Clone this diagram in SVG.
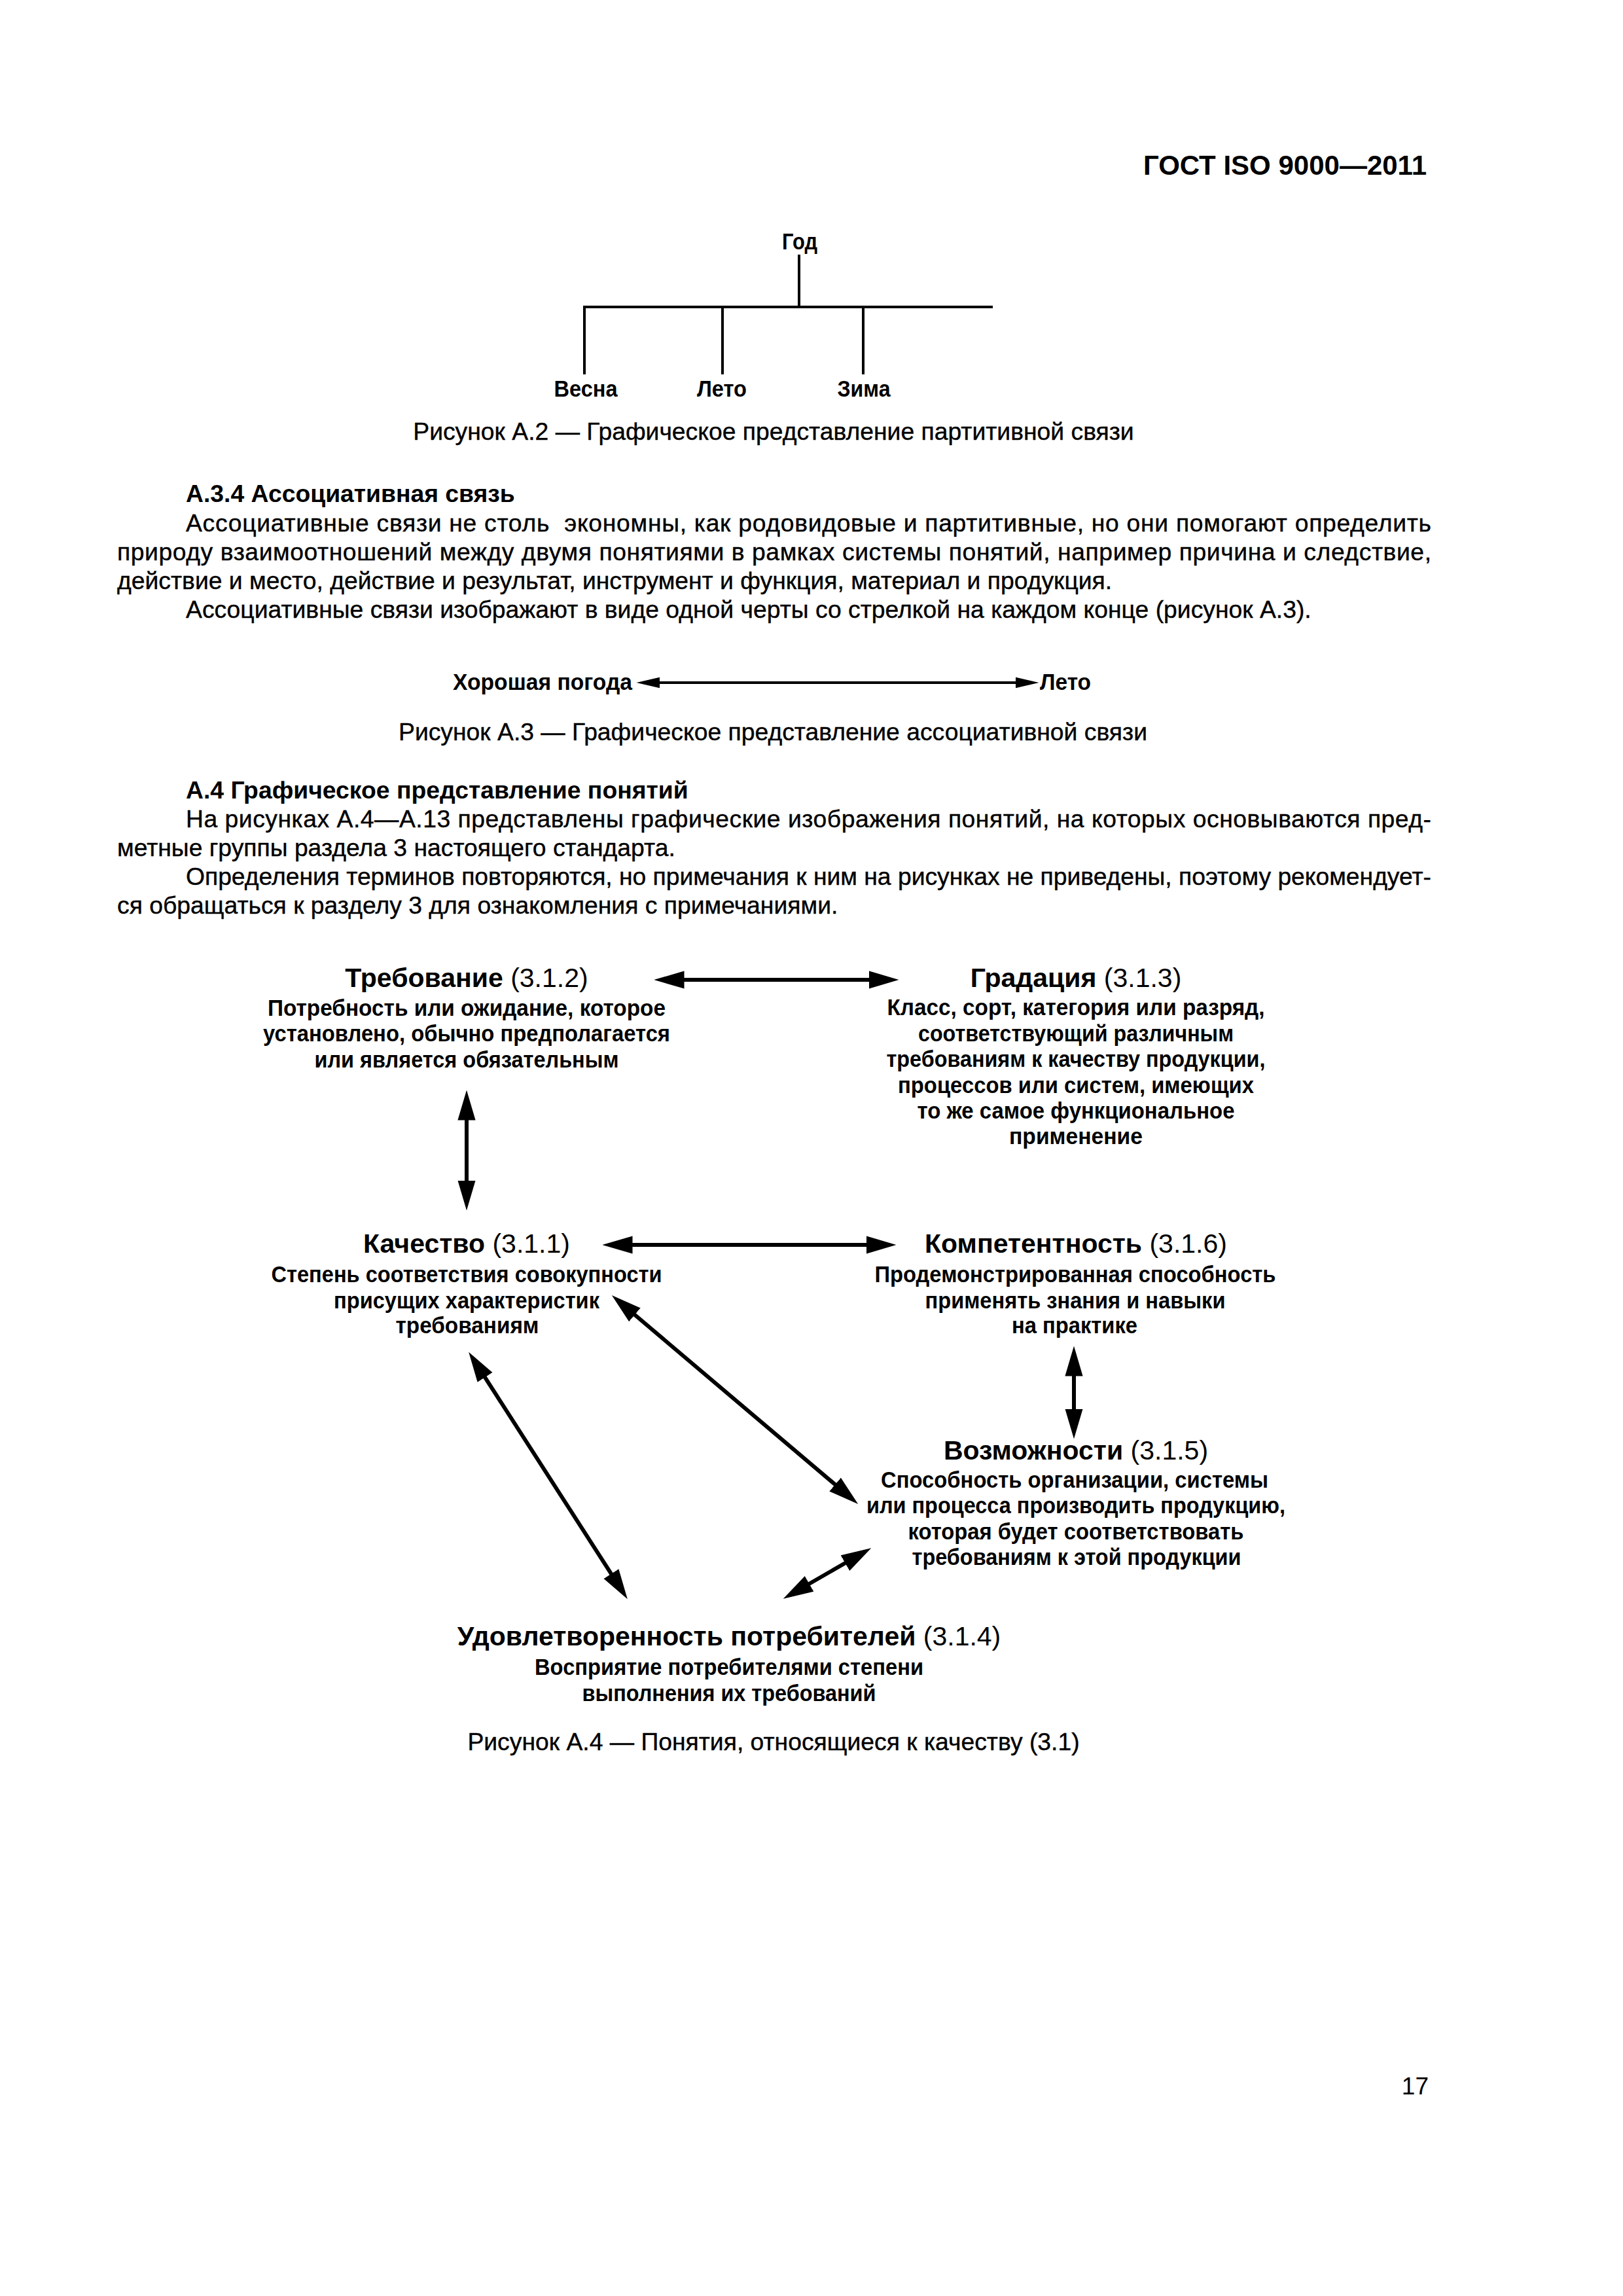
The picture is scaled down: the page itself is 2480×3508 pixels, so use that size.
<svg xmlns="http://www.w3.org/2000/svg" width="2480" height="3508" viewBox="0 0 2480 3508">
<style>
text { font-family: "Liberation Sans", Arial, sans-serif; fill: #000; }
.hdr { font-size: 42px; font-weight: bold; text-anchor: end; }
.body { font-size: 37.3px; stroke: #000; stroke-width: 0.4; }
.bh { font-size: 37.3px; font-weight: bold; }
.cap { font-size: 37.3px; text-anchor: middle; stroke: #000; stroke-width: 0.4; }
.lbl { font-size: 35px; font-weight: bold; text-anchor: middle; }
.t { font-size: 41px; font-weight: bold; text-anchor: middle; }
.n { font-weight: normal; }
.d { font-size: 35px; font-weight: bold; text-anchor: middle; }
.tree { stroke: #000; fill: none; stroke-width: 4; }
.a4 { stroke: #000; fill: none; stroke-width: 6; marker-start: url(#hb); marker-end: url(#hb); }
.a3 { stroke: #000; fill: none; stroke-width: 4; marker-start: url(#hs); marker-end: url(#hs); }
</style>
<defs>
<marker id="hb" markerUnits="userSpaceOnUse" markerWidth="46" markerHeight="28" viewBox="0 0 44 26" refX="33" refY="13" orient="auto-start-reverse">
<path d="M0,0 L44,13 L0,26 Z" fill="#000"/>
</marker>
<marker id="hs" markerUnits="userSpaceOnUse" markerWidth="36" markerHeight="18" viewBox="0 0 34 16" refX="25" refY="8" orient="auto-start-reverse">
<path d="M0,0 L34,8 L0,16 Z" fill="#000"/>
</marker>
</defs>
<rect x="0" y="0" width="2480" height="3508" fill="#fff"/>

<g id="page-header">
<text class="hdr" x="2180" y="267">ГОСТ ISO 9000—2011</text>
</g>

<!-- Figure A.2 -->
<g id="fig-a2">
<g id="node-god"><text class="lbl" x="1222" y="381" textLength="54" lengthAdjust="spacingAndGlyphs">Год</text></g>
<g id="node-vesna"><text class="lbl" x="895" y="606" textLength="97" lengthAdjust="spacingAndGlyphs">Весна</text></g>
<g id="node-leto"><text class="lbl" x="1103" y="606" textLength="76" lengthAdjust="spacingAndGlyphs">Лето</text></g>
<g id="node-zima"><text class="lbl" x="1320" y="606" textLength="81" lengthAdjust="spacingAndGlyphs">Зима</text></g>
<g id="connectors-a2">
<path class="tree" d="M1221,389 V469"/>
<path class="tree" d="M893,572 V469 H1517"/>
<path class="tree" d="M1104,469 V572"/>
<path class="tree" d="M1319,469 V572"/>
</g>
<text class="cap" x="1182" y="672">Рисунок А.2 — Графическое представление партитивной связи</text>
</g>

<!-- Section A.3.4 -->
<g id="section-a34">
<text class="bh" x="284" y="767">А.3.4 Ассоциативная связь</text>
<text class="body" x="284" y="812" textLength="1903" lengthAdjust="spacing" xml:space="preserve">Ассоциативные связи не столь  экономны, как родовидовые и партитивные, но они помогают определить</text>
<text class="body" x="179" y="856" textLength="2008" lengthAdjust="spacing">природу взаимоотношений между двумя понятиями в рамках системы понятий, например причина и следствие,</text>
<text class="body" x="179" y="900">действие и место, действие и результат, инструмент и функция, материал и продукция.</text>
<text class="body" x="284" y="944">Ассоциативные связи изображают в виде одной черты со стрелкой на каждом конце (рисунок А.3).</text>
</g>

<!-- Figure A.3 -->
<g id="fig-a3">
<g id="node-pogoda"><text class="lbl" x="692" y="1054" style="text-anchor:start" textLength="274" lengthAdjust="spacingAndGlyphs">Хорошая погода</text></g>
<g id="node-leto2"><text class="lbl" x="1589" y="1054" style="text-anchor:start" textLength="78" lengthAdjust="spacingAndGlyphs">Лето</text></g>
<g id="connectors-a3">
<line class="a3" x1="982" y1="1043" x2="1578" y2="1043"/>
</g>
<text class="cap" x="1181" y="1131">Рисунок А.3 — Графическое представление ассоциативной связи</text>
</g>

<!-- Section A.4 -->
<g id="section-a4">
<text class="bh" x="284" y="1220">А.4 Графическое представление понятий</text>
<text class="body" x="284" y="1264" textLength="1903" lengthAdjust="spacing">На рисунках А.4—А.13 представлены графические изображения понятий, на которых основываются пред-</text>
<text class="body" x="179" y="1308">метные группы раздела 3 настоящего стандарта.</text>
<text class="body" x="284" y="1352" textLength="1903" lengthAdjust="spacing">Определения терминов повторяются, но примечания к ним на рисунках не приведены, поэтому рекомендует-</text>
<text class="body" x="179" y="1396">ся обращаться к разделу 3 для ознакомления с примечаниями.</text>
</g>

<!-- Figure A.4 -->
<g id="fig-a4">
<g id="node-trebovanie">
<text class="t" x="713" y="1508">Требование <tspan class="n">(3.1.2)</tspan></text>
<text class="d" x="713" y="1552" textLength="608" lengthAdjust="spacingAndGlyphs">Потребность или ожидание, которое</text>
<text class="d" x="713" y="1591" textLength="622" lengthAdjust="spacingAndGlyphs">установлено, обычно предполагается</text>
<text class="d" x="713" y="1631" textLength="465" lengthAdjust="spacingAndGlyphs">или является обязательным</text>
</g>
<g id="node-gradacia">
<text class="t" x="1644" y="1508">Градация <tspan class="n">(3.1.3)</tspan></text>
<text class="d" x="1644" y="1551" textLength="577" lengthAdjust="spacingAndGlyphs">Класс, сорт, категория или разряд,</text>
<text class="d" x="1644" y="1591" textLength="482" lengthAdjust="spacingAndGlyphs">соответствующий различным</text>
<text class="d" x="1644" y="1630" textLength="579" lengthAdjust="spacingAndGlyphs">требованиям к качеству продукции,</text>
<text class="d" x="1644" y="1670" textLength="544" lengthAdjust="spacingAndGlyphs">процессов или систем, имеющих</text>
<text class="d" x="1644" y="1709" textLength="485" lengthAdjust="spacingAndGlyphs">то же самое функциональное</text>
<text class="d" x="1644" y="1748" textLength="204" lengthAdjust="spacingAndGlyphs">применение</text>
</g>
<g id="node-kachestvo">
<text class="t" x="713" y="1914">Качество <tspan class="n">(3.1.1)</tspan></text>
<text class="d" x="713" y="1959" textLength="597" lengthAdjust="spacingAndGlyphs">Степень соответствия совокупности</text>
<text class="d" x="713" y="1999" textLength="406" lengthAdjust="spacingAndGlyphs">присущих характеристик</text>
<text class="d" x="714" y="2037" textLength="219" lengthAdjust="spacingAndGlyphs">требованиям</text>
</g>
<g id="node-kompetentnost">
<text class="t" x="1644" y="1914">Компетентность <tspan class="n">(3.1.6)</tspan></text>
<text class="d" x="1643" y="1959" textLength="613" lengthAdjust="spacingAndGlyphs">Продемонстрированная способность</text>
<text class="d" x="1643" y="1999" textLength="459" lengthAdjust="spacingAndGlyphs">применять знания и навыки</text>
<text class="d" x="1642" y="2037" textLength="192" lengthAdjust="spacingAndGlyphs">на практике</text>
</g>
<g id="node-vozmozhnosti">
<text class="t" x="1644" y="2230">Возможности <tspan class="n">(3.1.5)</tspan></text>
<text class="d" x="1642" y="2273" textLength="592" lengthAdjust="spacingAndGlyphs">Способность организации, системы</text>
<text class="d" x="1644" y="2312" textLength="640" lengthAdjust="spacingAndGlyphs">или процесса производить продукцию,</text>
<text class="d" x="1644" y="2352" textLength="513" lengthAdjust="spacingAndGlyphs">которая будет соответствовать</text>
<text class="d" x="1645" y="2391" textLength="503" lengthAdjust="spacingAndGlyphs">требованиям к этой продукции</text>
</g>
<g id="node-udovletvorennost">
<text class="t" x="1114" y="2514">Удовлетворенность потребителей <tspan class="n">(3.1.4)</tspan></text>
<text class="d" x="1114" y="2559" textLength="594" lengthAdjust="spacingAndGlyphs">Восприятие потребителями степени</text>
<text class="d" x="1114" y="2599" textLength="449" lengthAdjust="spacingAndGlyphs">выполнения их требований</text>
</g>
<g id="connectors-a4">
<line class="a4" x1="1011" y1="1497" x2="1362" y2="1497"/>
<line class="a4" x1="713" y1="1677" x2="713" y2="1838"/>
<line class="a4" x1="932" y1="1902" x2="1358" y2="1902"/>
<line class="a4" x1="1641" y1="2068" x2="1641" y2="2187"/>
<line class="a4" x1="943.6" y1="1986.5" x2="1302.4" y2="2290.5"/>
<line class="a4" x1="722.4" y1="2075.4" x2="952.6" y2="2433.6"/>
<line class="a4" x1="1321.3" y1="2371" x2="1206.7" y2="2437"/>
</g>
<text class="cap" x="1182" y="2674">Рисунок А.4 — Понятия, относящиеся к качеству (3.1)</text>
</g>

<g id="page-number">
<text x="2183" y="3200" style="font-size:37px;text-anchor:end">17</text>
</g>
</svg>
